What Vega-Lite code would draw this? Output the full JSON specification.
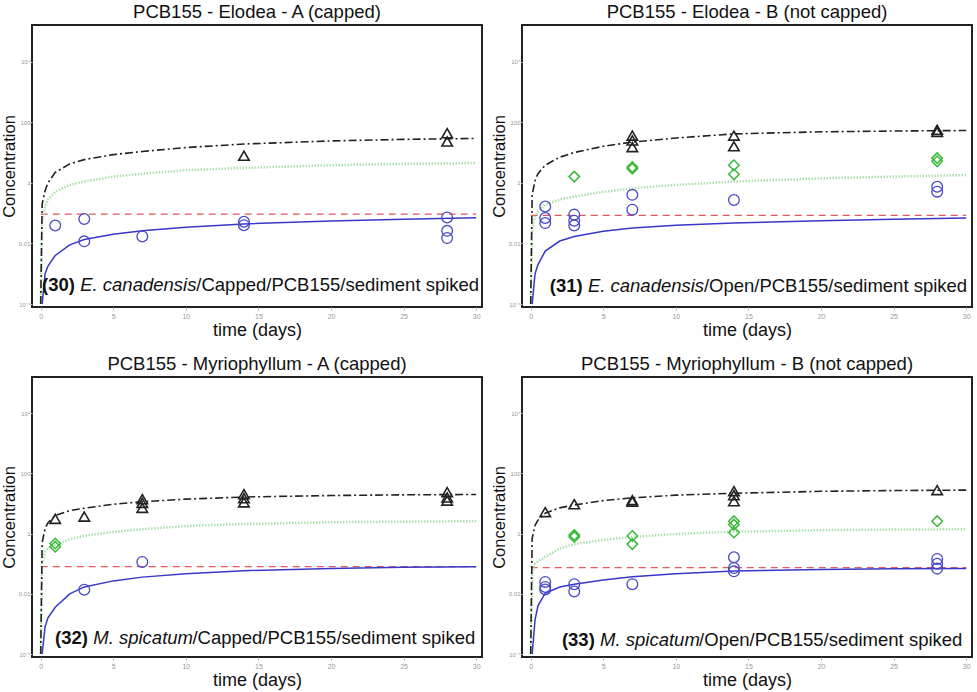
{
"$schema": "https://vega.github.io/schema/vega-lite/v6.json",
"padding": {"left": 0, "top": 1, "right": 2, "bottom": 1},
"background": "white",
"config": {
  "view": {"stroke": "#222", "strokeWidth": 2},
  "font": "Liberation Sans",
  "title": {"fontSize": 18.5, "fontWeight": "normal", "color": "#111", "offset": 4, "font": "Liberation Sans"},
  "axisX": {"labelFontSize": 7, "labelColor": "#999", "tickColor": "#bbb", "tickSize": 3, "domain": false, "grid": false, "titleFontSize": 18, "titleFontWeight": "normal", "titleColor": "#111", "labelPadding": 2, "titlePadding": 2, "labelFlush": false},
  "axisY": {"labelFontSize": 6, "labelColor": "#999", "tickColor": "#bbb", "tickSize": 2, "domain": false, "grid": false, "titleFontSize": 16.5, "titleFontWeight": "normal", "titleColor": "#111", "labelPadding": 0, "titlePadding": 1}
},
"data": {"values": [
{"p":"p30","k":"blk","t":0,"c":0.0001},{"p":"p30","k":"blk","t":0.1,"c":0.2},{"p":"p30","k":"blk","t":0.3,"c":0.55},{"p":"p30","k":"blk","t":0.5,"c":1.0},{"p":"p30","k":"blk","t":1,"c":2.2},{"p":"p30","k":"blk","t":2,"c":4.2},{"p":"p30","k":"blk","t":3,"c":5.8},{"p":"p30","k":"blk","t":5,"c":8.5},{"p":"p30","k":"blk","t":7,"c":10.8},{"p":"p30","k":"blk","t":10,"c":14.5},{"p":"p30","k":"blk","t":14,"c":19},{"p":"p30","k":"blk","t":20,"c":24},{"p":"p30","k":"blk","t":25,"c":27},{"p":"p30","k":"blk","t":30,"c":29},
{"p":"p30","k":"grn","t":0,"c":0.0001},{"p":"p30","k":"grn","t":0.1,"c":0.05},{"p":"p30","k":"grn","t":0.3,"c":0.17},{"p":"p30","k":"grn","t":0.5,"c":0.28},{"p":"p30","k":"grn","t":1,"c":0.5},{"p":"p30","k":"grn","t":2,"c":0.85},{"p":"p30","k":"grn","t":3,"c":1.1},{"p":"p30","k":"grn","t":5,"c":1.6},{"p":"p30","k":"grn","t":7,"c":2.0},{"p":"p30","k":"grn","t":10,"c":2.6},{"p":"p30","k":"grn","t":14,"c":3.1},{"p":"p30","k":"grn","t":20,"c":3.8},{"p":"p30","k":"grn","t":25,"c":4.2},{"p":"p30","k":"grn","t":30,"c":4.5},
{"p":"p30","k":"blu","t":0.1,"c":0.0001},{"p":"p30","k":"blu","t":0.3,"c":0.001},{"p":"p30","k":"blu","t":0.5,"c":0.0018},{"p":"p30","k":"blu","t":1,"c":0.004},{"p":"p30","k":"blu","t":2,"c":0.009},{"p":"p30","k":"blu","t":3,"c":0.0135},{"p":"p30","k":"blu","t":5,"c":0.02},{"p":"p30","k":"blu","t":7,"c":0.026},{"p":"p30","k":"blu","t":10,"c":0.034},{"p":"p30","k":"blu","t":14,"c":0.044},{"p":"p30","k":"blu","t":20,"c":0.055},{"p":"p30","k":"blu","t":25,"c":0.063},{"p":"p30","k":"blu","t":30,"c":0.07},
{"p":"p30","k":"red","t":0,"c":0.093},{"p":"p30","k":"red","t":30,"c":0.093},
{"p":"p30","k":"tri","t":14,"c":7.8},{"p":"p30","k":"tri","t":28,"c":43},{"p":"p30","k":"tri","t":28,"c":23},
{"p":"p30","k":"cir","t":1,"c":0.039},{"p":"p30","k":"cir","t":3,"c":0.064},{"p":"p30","k":"cir","t":3,"c":0.0117},{"p":"p30","k":"cir","t":7,"c":0.017},{"p":"p30","k":"cir","t":14,"c":0.052},{"p":"p30","k":"cir","t":14,"c":0.04},{"p":"p30","k":"cir","t":28,"c":0.072},{"p":"p30","k":"cir","t":28,"c":0.026},{"p":"p30","k":"cir","t":28,"c":0.015},

{"p":"p31","k":"blk","t":0,"c":0.0001},{"p":"p31","k":"blk","t":0.1,"c":0.4},{"p":"p31","k":"blk","t":0.3,"c":1.2},{"p":"p31","k":"blk","t":0.5,"c":2},{"p":"p31","k":"blk","t":1,"c":3.8},{"p":"p31","k":"blk","t":2,"c":7},{"p":"p31","k":"blk","t":3,"c":10},{"p":"p31","k":"blk","t":5,"c":16},{"p":"p31","k":"blk","t":7,"c":22},{"p":"p31","k":"blk","t":10,"c":30},{"p":"p31","k":"blk","t":14,"c":41},{"p":"p31","k":"blk","t":20,"c":48},{"p":"p31","k":"blk","t":25,"c":51},{"p":"p31","k":"blk","t":30,"c":53},
{"p":"p31","k":"grn","t":0,"c":0.0001},{"p":"p31","k":"grn","t":0.1,"c":0.03},{"p":"p31","k":"grn","t":0.3,"c":0.08},{"p":"p31","k":"grn","t":0.5,"c":0.11},{"p":"p31","k":"grn","t":1,"c":0.19},{"p":"p31","k":"grn","t":2,"c":0.28},{"p":"p31","k":"grn","t":3,"c":0.35},{"p":"p31","k":"grn","t":5,"c":0.5},{"p":"p31","k":"grn","t":7,"c":0.66},{"p":"p31","k":"grn","t":10,"c":0.85},{"p":"p31","k":"grn","t":14,"c":1.1},{"p":"p31","k":"grn","t":20,"c":1.4},{"p":"p31","k":"grn","t":25,"c":1.6},{"p":"p31","k":"grn","t":30,"c":1.8},
{"p":"p31","k":"blu","t":0.1,"c":0.0001},{"p":"p31","k":"blu","t":0.3,"c":0.001},{"p":"p31","k":"blu","t":0.5,"c":0.002},{"p":"p31","k":"blu","t":1,"c":0.0056},{"p":"p31","k":"blu","t":2,"c":0.012},{"p":"p31","k":"blu","t":3,"c":0.017},{"p":"p31","k":"blu","t":5,"c":0.025},{"p":"p31","k":"blu","t":7,"c":0.032},{"p":"p31","k":"blu","t":10,"c":0.04},{"p":"p31","k":"blu","t":14,"c":0.047},{"p":"p31","k":"blu","t":20,"c":0.056},{"p":"p31","k":"blu","t":25,"c":0.063},{"p":"p31","k":"blu","t":30,"c":0.069},
{"p":"p31","k":"red","t":0,"c":0.084},{"p":"p31","k":"red","t":30,"c":0.084},
{"p":"p31","k":"tri","t":7,"c":36},{"p":"p31","k":"tri","t":7,"c":25},{"p":"p31","k":"tri","t":7,"c":15},{"p":"p31","k":"tri","t":14,"c":36},{"p":"p31","k":"tri","t":14,"c":16},{"p":"p31","k":"tri","t":28,"c":56},{"p":"p31","k":"tri","t":28,"c":48},
{"p":"p31","k":"dia","t":3,"c":1.6},{"p":"p31","k":"dia","t":7,"c":3.3},{"p":"p31","k":"dia","t":7,"c":2.9},{"p":"p31","k":"dia","t":14,"c":3.8},{"p":"p31","k":"dia","t":14,"c":1.9},{"p":"p31","k":"dia","t":28,"c":6.5},{"p":"p31","k":"dia","t":28,"c":5.1},
{"p":"p31","k":"cir","t":1,"c":0.165},{"p":"p31","k":"cir","t":1,"c":0.069},{"p":"p31","k":"cir","t":1,"c":0.047},{"p":"p31","k":"cir","t":3,"c":0.089},{"p":"p31","k":"cir","t":3,"c":0.056},{"p":"p31","k":"cir","t":3,"c":0.039},{"p":"p31","k":"cir","t":7,"c":0.4},{"p":"p31","k":"cir","t":7,"c":0.13},{"p":"p31","k":"cir","t":14,"c":0.27},{"p":"p31","k":"cir","t":28,"c":0.74},{"p":"p31","k":"cir","t":28,"c":0.51},

{"p":"p32","k":"blk","t":0,"c":0.0001},{"p":"p32","k":"blk","t":0.1,"c":0.5},{"p":"p32","k":"blk","t":0.3,"c":1.5},{"p":"p32","k":"blk","t":0.5,"c":2.3},{"p":"p32","k":"blk","t":1,"c":4.0},{"p":"p32","k":"blk","t":2,"c":5.8},{"p":"p32","k":"blk","t":3,"c":7},{"p":"p32","k":"blk","t":5,"c":9.5},{"p":"p32","k":"blk","t":7,"c":11.5},{"p":"p32","k":"blk","t":10,"c":14},{"p":"p32","k":"blk","t":14,"c":16.5},{"p":"p32","k":"blk","t":20,"c":18.5},{"p":"p32","k":"blk","t":25,"c":19.5},{"p":"p32","k":"blk","t":30,"c":20},
{"p":"p32","k":"grn","t":0,"c":0.0001},{"p":"p32","k":"grn","t":0.1,"c":0.1},{"p":"p32","k":"grn","t":0.3,"c":0.25},{"p":"p32","k":"grn","t":0.5,"c":0.33},{"p":"p32","k":"grn","t":1,"c":0.42},{"p":"p32","k":"grn","t":2,"c":0.65},{"p":"p32","k":"grn","t":3,"c":0.85},{"p":"p32","k":"grn","t":5,"c":1.15},{"p":"p32","k":"grn","t":7,"c":1.4},{"p":"p32","k":"grn","t":10,"c":1.8},{"p":"p32","k":"grn","t":14,"c":2.1},{"p":"p32","k":"grn","t":20,"c":2.4},{"p":"p32","k":"grn","t":25,"c":2.5},{"p":"p32","k":"grn","t":30,"c":2.6},
{"p":"p32","k":"blu","t":0.1,"c":0.0001},{"p":"p32","k":"blu","t":0.3,"c":0.0008},{"p":"p32","k":"blu","t":0.5,"c":0.0016},{"p":"p32","k":"blu","t":1,"c":0.0036},{"p":"p32","k":"blu","t":2,"c":0.01},{"p":"p32","k":"blu","t":3,"c":0.017},{"p":"p32","k":"blu","t":5,"c":0.027},{"p":"p32","k":"blu","t":7,"c":0.036},{"p":"p32","k":"blu","t":10,"c":0.047},{"p":"p32","k":"blu","t":14,"c":0.059},{"p":"p32","k":"blu","t":20,"c":0.07},{"p":"p32","k":"blu","t":25,"c":0.076},{"p":"p32","k":"blu","t":30,"c":0.08},
{"p":"p32","k":"red","t":0,"c":0.081},{"p":"p32","k":"red","t":30,"c":0.081},
{"p":"p32","k":"tri","t":1,"c":3.1},{"p":"p32","k":"tri","t":3,"c":3.7},{"p":"p32","k":"tri","t":7,"c":14},{"p":"p32","k":"tri","t":7,"c":10.6},{"p":"p32","k":"tri","t":7,"c":7.2},{"p":"p32","k":"tri","t":14,"c":20.5},{"p":"p32","k":"tri","t":14,"c":15},{"p":"p32","k":"tri","t":14,"c":11},{"p":"p32","k":"tri","t":28,"c":24},{"p":"p32","k":"tri","t":28,"c":16},{"p":"p32","k":"tri","t":28,"c":12.6},
{"p":"p32","k":"dia","t":1,"c":0.47},{"p":"p32","k":"dia","t":1,"c":0.37},
{"p":"p32","k":"cir","t":3,"c":0.0138},{"p":"p32","k":"cir","t":7,"c":0.115},

{"p":"p33","k":"blk","t":0,"c":0.0001},{"p":"p33","k":"blk","t":0.1,"c":0.7},{"p":"p33","k":"blk","t":0.3,"c":1.9},{"p":"p33","k":"blk","t":0.5,"c":2.8},{"p":"p33","k":"blk","t":1,"c":4.8},{"p":"p33","k":"blk","t":2,"c":7.2},{"p":"p33","k":"blk","t":3,"c":9},{"p":"p33","k":"blk","t":5,"c":12.5},{"p":"p33","k":"blk","t":7,"c":15.5},{"p":"p33","k":"blk","t":10,"c":19},{"p":"p33","k":"blk","t":14,"c":22},{"p":"p33","k":"blk","t":20,"c":25.5},{"p":"p33","k":"blk","t":25,"c":27},{"p":"p33","k":"blk","t":30,"c":28},
{"p":"p33","k":"grn","t":0,"c":0.0001},{"p":"p33","k":"grn","t":0.1,"c":0.05},{"p":"p33","k":"grn","t":0.3,"c":0.1},{"p":"p33","k":"grn","t":0.5,"c":0.12},{"p":"p33","k":"grn","t":1,"c":0.17},{"p":"p33","k":"grn","t":2,"c":0.32},{"p":"p33","k":"grn","t":3,"c":0.45},{"p":"p33","k":"grn","t":5,"c":0.62},{"p":"p33","k":"grn","t":7,"c":0.78},{"p":"p33","k":"grn","t":10,"c":0.98},{"p":"p33","k":"grn","t":14,"c":1.16},{"p":"p33","k":"grn","t":20,"c":1.3},{"p":"p33","k":"grn","t":25,"c":1.37},{"p":"p33","k":"grn","t":30,"c":1.4},
{"p":"p33","k":"blu","t":0.1,"c":0.0001},{"p":"p33","k":"blu","t":0.3,"c":0.0014},{"p":"p33","k":"blu","t":0.5,"c":0.004},{"p":"p33","k":"blu","t":1,"c":0.0105},{"p":"p33","k":"blu","t":2,"c":0.017},{"p":"p33","k":"blu","t":3,"c":0.021},{"p":"p33","k":"blu","t":5,"c":0.029},{"p":"p33","k":"blu","t":7,"c":0.037},{"p":"p33","k":"blu","t":10,"c":0.047},{"p":"p33","k":"blu","t":14,"c":0.058},{"p":"p33","k":"blu","t":20,"c":0.065},{"p":"p33","k":"blu","t":25,"c":0.068},{"p":"p33","k":"blu","t":30,"c":0.069},
{"p":"p33","k":"red","t":0,"c":0.074},{"p":"p33","k":"red","t":30,"c":0.074},
{"p":"p33","k":"tri","t":1,"c":5.2},{"p":"p33","k":"tri","t":3,"c":9.5},{"p":"p33","k":"tri","t":7,"c":13},{"p":"p33","k":"tri","t":7,"c":11.6},{"p":"p33","k":"tri","t":14,"c":26},{"p":"p33","k":"tri","t":14,"c":19},{"p":"p33","k":"tri","t":14,"c":12},{"p":"p33","k":"tri","t":28,"c":28},
{"p":"p33","k":"dia","t":3,"c":0.9},{"p":"p33","k":"dia","t":3,"c":0.78},{"p":"p33","k":"dia","t":7,"c":0.84},{"p":"p33","k":"dia","t":7,"c":0.45},{"p":"p33","k":"dia","t":14,"c":2.6},{"p":"p33","k":"dia","t":14,"c":2.0},{"p":"p33","k":"dia","t":14,"c":1.1},{"p":"p33","k":"dia","t":28,"c":2.6},
{"p":"p33","k":"cir","t":1,"c":0.025},{"p":"p33","k":"cir","t":1,"c":0.017},{"p":"p33","k":"cir","t":1,"c":0.014},{"p":"p33","k":"cir","t":3,"c":0.021},{"p":"p33","k":"cir","t":3,"c":0.012},{"p":"p33","k":"cir","t":7,"c":0.021},{"p":"p33","k":"cir","t":14,"c":0.165},{"p":"p33","k":"cir","t":14,"c":0.072},{"p":"p33","k":"cir","t":14,"c":0.056},{"p":"p33","k":"cir","t":28,"c":0.145},{"p":"p33","k":"cir","t":28,"c":0.1},{"p":"p33","k":"cir","t":28,"c":0.069}
]},
"spacing": 13,
"vconcat": [
{"spacing": 7, "hconcat": [
 {"width": 450, "height": 282, "title": {"text": "PCB155 - Elodea - A (capped)", "fontWeight": "normal"},
  "transform": [{"filter": "datum.p == 'p30'"}],
  "encoding": {
   "x": {"field": "t", "type": "quantitative", "title": "time (days)", "scale": {"domain": [-0.6, 30.4], "nice": false, "zero": false}, "axis": {"values": [0,5,10,15,20,25,30]}},
   "y": {"field": "c", "type": "quantitative", "title": "Concentration", "scale": {"type": "log", "domain": [0.00008, 160000], "nice": false}, "axis": {"values": [0.0001, 0.01, 1, 100, 10000], "labelExpr": "datum.value >= 1000 ? '10⁴' : datum.value >= 10 ? '100' : datum.value >= 0.1 ? '1' : datum.value >= 0.001 ? '0.01' : '10⁻⁴'"}}
  },
  "layer": [
   {"transform": [{"filter": "datum.k == 'red'"}], "mark": {"type": "line", "color": "#e05a5a", "strokeWidth": 1.3, "strokeDash": [7, 5], "clip": true}},
   {"transform": [{"filter": "datum.k == 'grn'"}], "mark": {"type": "line", "color": "#ade0ad", "strokeWidth": 2.5, "strokeDash": [1.5, 1.5], "clip": true}},
   {"transform": [{"filter": "datum.k == 'blu'"}], "mark": {"type": "line", "color": "#3838c8", "strokeWidth": 1.5, "clip": true}},
   {"transform": [{"filter": "datum.k == 'blk'"}], "mark": {"type": "line", "color": "#222", "strokeWidth": 1.6, "strokeDash": [8, 3, 2, 3], "clip": true}},
   {"transform": [{"filter": "datum.k == 'cir'"}], "mark": {"type": "point", "shape": "circle", "filled": false, "size": 115, "color": "#4848c8", "strokeWidth": 1.3, "opacity": 1}},
   {"transform": [{"filter": "datum.k == 'dia'"}], "mark": {"type": "point", "shape": "diamond", "filled": false, "size": 110, "color": "#3cb83c", "strokeWidth": 1.5, "opacity": 1}},
   {"transform": [{"filter": "datum.k == 'tri'"}], "mark": {"type": "point", "shape": "triangle-up", "filled": false, "size": 110, "color": "#222", "strokeWidth": 1.6, "opacity": 1}},
   {"transform": [{"filter": "datum.k == 'red' && datum.t == 0"}], "mark": {"type": "text", "align": "left", "baseline": "alphabetic", "fontSize": 18.5, "fontWeight": "bold", "color": "#111"}, "encoding": {"x": {"datum": 0.09}, "y": {"datum": 0.00026}, "text": {"value": "(30)"}}},
   {"transform": [{"filter": "datum.k == 'red' && datum.t == 0"}], "mark": {"type": "text", "align": "left", "baseline": "alphabetic", "fontSize": 18.5, "fontStyle": "italic", "color": "#111"}, "encoding": {"x": {"datum": 2.72}, "y": {"datum": 0.00026}, "text": {"value": "E. canadensis"}}},
   {"transform": [{"filter": "datum.k == 'red' && datum.t == 0"}], "mark": {"type": "text", "align": "left", "baseline": "alphabetic", "fontSize": 18.5, "color": "#111"}, "encoding": {"x": {"datum": 10.72}, "y": {"datum": 0.00026}, "text": {"value": "/Capped/PCB155/sediment spiked"}}}
  ]},
 {"width": 450, "height": 282, "title": {"text": "PCB155 - Elodea - B (not capped)", "fontWeight": "normal"},
  "transform": [{"filter": "datum.p == 'p31'"}],
  "encoding": {
   "x": {"field": "t", "type": "quantitative", "title": "time (days)", "scale": {"domain": [-0.6, 30.4], "nice": false, "zero": false}, "axis": {"values": [0,5,10,15,20,25,30]}},
   "y": {"field": "c", "type": "quantitative", "title": "Concentration", "scale": {"type": "log", "domain": [0.00008, 160000], "nice": false}, "axis": {"values": [0.0001, 0.01, 1, 100, 10000], "labelExpr": "datum.value >= 1000 ? '10⁴' : datum.value >= 10 ? '100' : datum.value >= 0.1 ? '1' : datum.value >= 0.001 ? '0.01' : '10⁻⁴'"}}
  },
  "layer": [
   {"transform": [{"filter": "datum.k == 'red'"}], "mark": {"type": "line", "color": "#e05a5a", "strokeWidth": 1.3, "strokeDash": [7, 5], "clip": true}},
   {"transform": [{"filter": "datum.k == 'grn'"}], "mark": {"type": "line", "color": "#ade0ad", "strokeWidth": 2.5, "strokeDash": [1.5, 1.5], "clip": true}},
   {"transform": [{"filter": "datum.k == 'blu'"}], "mark": {"type": "line", "color": "#3838c8", "strokeWidth": 1.5, "clip": true}},
   {"transform": [{"filter": "datum.k == 'blk'"}], "mark": {"type": "line", "color": "#222", "strokeWidth": 1.6, "strokeDash": [8, 3, 2, 3], "clip": true}},
   {"transform": [{"filter": "datum.k == 'cir'"}], "mark": {"type": "point", "shape": "circle", "filled": false, "size": 115, "color": "#4848c8", "strokeWidth": 1.3, "opacity": 1}},
   {"transform": [{"filter": "datum.k == 'dia'"}], "mark": {"type": "point", "shape": "diamond", "filled": false, "size": 110, "color": "#3cb83c", "strokeWidth": 1.5, "opacity": 1}},
   {"transform": [{"filter": "datum.k == 'tri'"}], "mark": {"type": "point", "shape": "triangle-up", "filled": false, "size": 110, "color": "#222", "strokeWidth": 1.6, "opacity": 1}},
   {"transform": [{"filter": "datum.k == 'red' && datum.t == 0"}], "mark": {"type": "text", "align": "left", "baseline": "alphabetic", "fontSize": 18.5, "fontWeight": "bold", "color": "#111"}, "encoding": {"x": {"datum": 1.31}, "y": {"datum": 0.00025}, "text": {"value": "(31)"}}},
   {"transform": [{"filter": "datum.k == 'red' && datum.t == 0"}], "mark": {"type": "text", "align": "left", "baseline": "alphabetic", "fontSize": 18.5, "fontStyle": "italic", "color": "#111"}, "encoding": {"x": {"datum": 3.94}, "y": {"datum": 0.00025}, "text": {"value": "E. canadensis"}}},
   {"transform": [{"filter": "datum.k == 'red' && datum.t == 0"}], "mark": {"type": "text", "align": "left", "baseline": "alphabetic", "fontSize": 18.5, "color": "#111"}, "encoding": {"x": {"datum": 11.93}, "y": {"datum": 0.00025}, "text": {"value": "/Open/PCB155/sediment spiked"}}}
  ]}
]},
{"spacing": 7, "hconcat": [
 {"width": 450, "height": 280, "title": {"text": "PCB155 - Myriophyllum - A (capped)", "fontWeight": "normal"},
  "transform": [{"filter": "datum.p == 'p32'"}],
  "encoding": {
   "x": {"field": "t", "type": "quantitative", "title": "time (days)", "scale": {"domain": [-0.6, 30.4], "nice": false, "zero": false}, "axis": {"values": [0,5,10,15,20,25,30]}},
   "y": {"field": "c", "type": "quantitative", "title": "Concentration", "scale": {"type": "log", "domain": [0.00008, 160000], "nice": false}, "axis": {"values": [0.0001, 0.01, 1, 100, 10000], "labelExpr": "datum.value >= 1000 ? '10⁴' : datum.value >= 10 ? '100' : datum.value >= 0.1 ? '1' : datum.value >= 0.001 ? '0.01' : '10⁻⁴'"}}
  },
  "layer": [
   {"transform": [{"filter": "datum.k == 'red'"}], "mark": {"type": "line", "color": "#e05a5a", "strokeWidth": 1.3, "strokeDash": [7, 5], "clip": true}},
   {"transform": [{"filter": "datum.k == 'grn'"}], "mark": {"type": "line", "color": "#ade0ad", "strokeWidth": 2.5, "strokeDash": [1.5, 1.5], "clip": true}},
   {"transform": [{"filter": "datum.k == 'blu'"}], "mark": {"type": "line", "color": "#3838c8", "strokeWidth": 1.5, "clip": true}},
   {"transform": [{"filter": "datum.k == 'blk'"}], "mark": {"type": "line", "color": "#222", "strokeWidth": 1.6, "strokeDash": [8, 3, 2, 3], "clip": true}},
   {"transform": [{"filter": "datum.k == 'cir'"}], "mark": {"type": "point", "shape": "circle", "filled": false, "size": 115, "color": "#4848c8", "strokeWidth": 1.3, "opacity": 1}},
   {"transform": [{"filter": "datum.k == 'dia'"}], "mark": {"type": "point", "shape": "diamond", "filled": false, "size": 110, "color": "#3cb83c", "strokeWidth": 1.5, "opacity": 1}},
   {"transform": [{"filter": "datum.k == 'tri'"}], "mark": {"type": "point", "shape": "triangle-up", "filled": false, "size": 110, "color": "#222", "strokeWidth": 1.6, "opacity": 1}},
   {"transform": [{"filter": "datum.k == 'red' && datum.t == 0"}], "mark": {"type": "text", "align": "left", "baseline": "alphabetic", "fontSize": 18.5, "fontWeight": "bold", "color": "#111"}, "encoding": {"x": {"datum": 0.99}, "y": {"datum": 0.00022}, "text": {"value": "(32)"}}},
   {"transform": [{"filter": "datum.k == 'red' && datum.t == 0"}], "mark": {"type": "text", "align": "left", "baseline": "alphabetic", "fontSize": 18.5, "fontStyle": "italic", "color": "#111"}, "encoding": {"x": {"datum": 3.62}, "y": {"datum": 0.00022}, "text": {"value": "M. spicatum"}}},
   {"transform": [{"filter": "datum.k == 'red' && datum.t == 0"}], "mark": {"type": "text", "align": "left", "baseline": "alphabetic", "fontSize": 18.5, "color": "#111"}, "encoding": {"x": {"datum": 10.45}, "y": {"datum": 0.00022}, "text": {"value": "/Capped/PCB155/sediment spiked"}}}
  ]},
 {"width": 450, "height": 280, "title": {"text": "PCB155 - Myriophyllum - B (not capped)", "fontWeight": "normal"},
  "transform": [{"filter": "datum.p == 'p33'"}],
  "encoding": {
   "x": {"field": "t", "type": "quantitative", "title": "time (days)", "scale": {"domain": [-0.6, 30.4], "nice": false, "zero": false}, "axis": {"values": [0,5,10,15,20,25,30]}},
   "y": {"field": "c", "type": "quantitative", "title": "Concentration", "scale": {"type": "log", "domain": [0.00008, 160000], "nice": false}, "axis": {"values": [0.0001, 0.01, 1, 100, 10000], "labelExpr": "datum.value >= 1000 ? '10⁴' : datum.value >= 10 ? '100' : datum.value >= 0.1 ? '1' : datum.value >= 0.001 ? '0.01' : '10⁻⁴'"}}
  },
  "layer": [
   {"transform": [{"filter": "datum.k == 'red'"}], "mark": {"type": "line", "color": "#e05a5a", "strokeWidth": 1.3, "strokeDash": [7, 5], "clip": true}},
   {"transform": [{"filter": "datum.k == 'grn'"}], "mark": {"type": "line", "color": "#ade0ad", "strokeWidth": 2.5, "strokeDash": [1.5, 1.5], "clip": true}},
   {"transform": [{"filter": "datum.k == 'blu'"}], "mark": {"type": "line", "color": "#3838c8", "strokeWidth": 1.5, "clip": true}},
   {"transform": [{"filter": "datum.k == 'blk'"}], "mark": {"type": "line", "color": "#222", "strokeWidth": 1.6, "strokeDash": [8, 3, 2, 3], "clip": true}},
   {"transform": [{"filter": "datum.k == 'cir'"}], "mark": {"type": "point", "shape": "circle", "filled": false, "size": 115, "color": "#4848c8", "strokeWidth": 1.3, "opacity": 1}},
   {"transform": [{"filter": "datum.k == 'dia'"}], "mark": {"type": "point", "shape": "diamond", "filled": false, "size": 110, "color": "#3cb83c", "strokeWidth": 1.5, "opacity": 1}},
   {"transform": [{"filter": "datum.k == 'tri'"}], "mark": {"type": "point", "shape": "triangle-up", "filled": false, "size": 110, "color": "#222", "strokeWidth": 1.6, "opacity": 1}},
   {"transform": [{"filter": "datum.k == 'red' && datum.t == 0"}], "mark": {"type": "text", "align": "left", "baseline": "alphabetic", "fontSize": 18.5, "fontWeight": "bold", "color": "#111"}, "encoding": {"x": {"datum": 2.15}, "y": {"datum": 0.00019}, "text": {"value": "(33)"}}},
   {"transform": [{"filter": "datum.k == 'red' && datum.t == 0"}], "mark": {"type": "text", "align": "left", "baseline": "alphabetic", "fontSize": 18.5, "fontStyle": "italic", "color": "#111"}, "encoding": {"x": {"datum": 4.78}, "y": {"datum": 0.00019}, "text": {"value": "M. spicatum"}}},
   {"transform": [{"filter": "datum.k == 'red' && datum.t == 0"}], "mark": {"type": "text", "align": "left", "baseline": "alphabetic", "fontSize": 18.5, "color": "#111"}, "encoding": {"x": {"datum": 11.6}, "y": {"datum": 0.00019}, "text": {"value": "/Open/PCB155/sediment spiked"}}}
  ]}
]}
]
}
